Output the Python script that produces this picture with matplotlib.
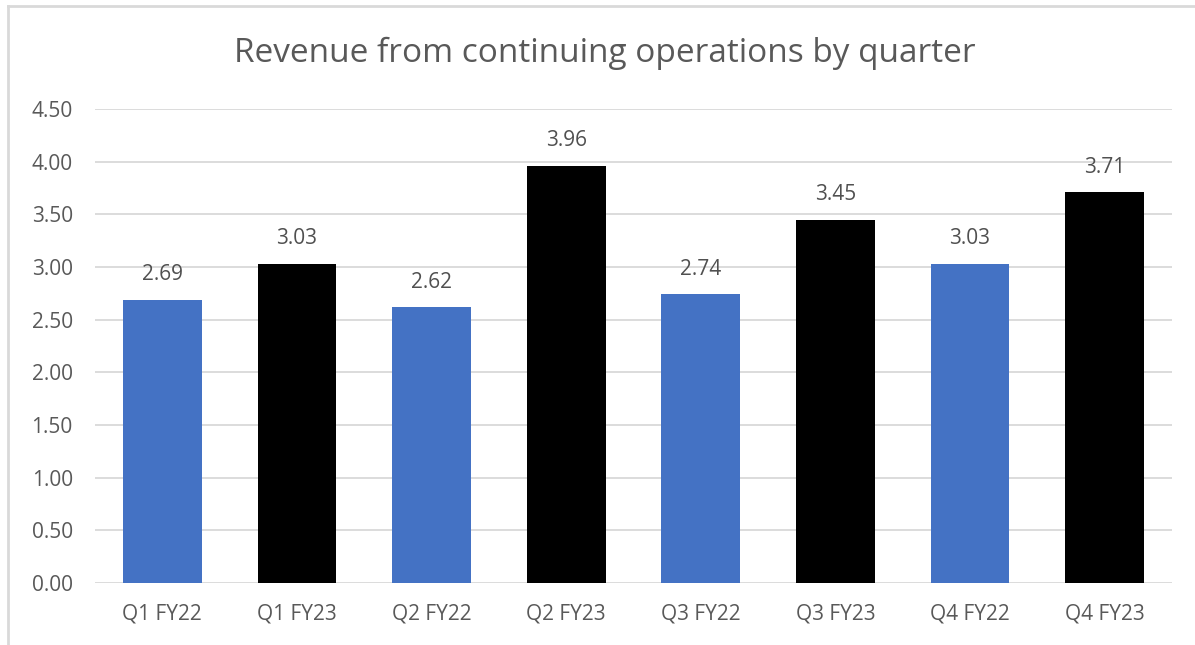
import matplotlib
matplotlib.use("Agg")
import matplotlib.pyplot as plt
from matplotlib.lines import Line2D

categories = ["Q1 FY22", "Q1 FY23", "Q2 FY22", "Q2 FY23", "Q3 FY22", "Q3 FY23", "Q4 FY22", "Q4 FY23"]
values = [2.69, 3.03, 2.62, 3.96, 2.74, 3.45, 3.03, 3.71]
colors = ["#4472C4", "#000000", "#4472C4", "#000000", "#4472C4", "#000000", "#4472C4", "#000000"]
yticks = [0.0, 0.5, 1.0, 1.5, 2.0, 2.5, 3.0, 3.5, 4.0, 4.5]
title = "Revenue from continuing operations by quarter"

plt.rcParams['font.family'] = ['Open Sans', 'DejaVu Sans']

W, H = 1195, 645
fig = plt.figure(figsize=(W / 100, H / 100), dpi=100)
fig.patch.set_facecolor("white")
ax = fig.add_axes([95 / W, (H - 583) / H, (1172 - 95) / W, (583 - 109) / H])

x = list(range(len(categories)))
bars = ax.bar(x, values, width=0.585, color=colors, zorder=3)
ax.set_xlim(-0.5, len(categories) - 0.5)
ax.set_ylim(0, 4.5)
ax.set_yticks(yticks)
ax.set_yticklabels([f"{v:.2f}" for v in yticks])
ax.set_xticks(x)
ax.set_xticklabels(categories)
ax.yaxis.grid(True, color="#d9d9d9", linewidth=1.3, zorder=0)
ax.set_axisbelow(True)
for s in ax.spines.values():
    s.set_visible(False)
ax.tick_params(axis="both", length=0, labelsize=15, labelcolor="#595959")
ax.tick_params(axis="y", pad=16)
ax.tick_params(axis="x", pad=15)

for xi, v in zip(x, values):
    ax.annotate(f"{v:.2f}", (xi, v), xytext=(0, 18), textcoords="offset points",
                ha="center", va="center", fontsize=15, color="#505050")

fig.text(605 / W, 1 - 53 / H, title, ha="center", va="center", fontsize=24, color="#595959")

fig.add_artist(Line2D([7.5 / W, 7.5 / W], [0, 1 - 5.5 / H], color="#d9d9d9", linewidth=2, transform=fig.transFigure))
fig.add_artist(Line2D([7.5 / W, 1], [1 - 5.5 / H, 1 - 5.5 / H], color="#d9d9d9", linewidth=2, transform=fig.transFigure))

fig.savefig("out.png", dpi=100)
